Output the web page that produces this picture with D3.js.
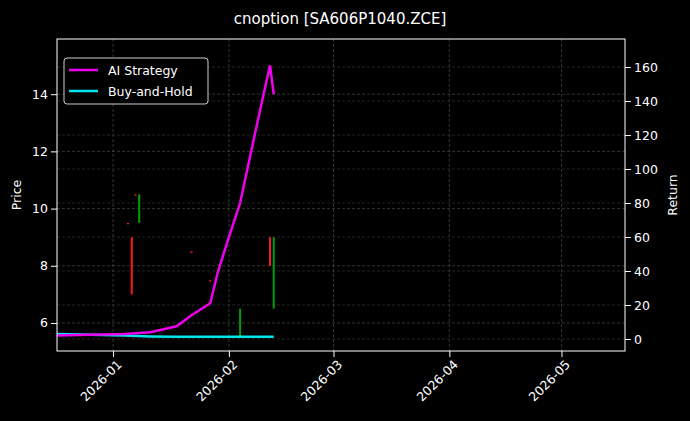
<!DOCTYPE html><html><head><meta charset="utf-8"><script src="https://d3js.org/d3.v7.min.js"></script>
<style>body{margin:0;background:#000}text{font-family:"DejaVu Sans",sans-serif}</style></head><body><svg id="c" width="690" height="421"></svg><script>
const candleDates=["2026-01-05","2026-01-06","2026-01-07","2026-01-08","2026-01-22","2026-01-27","2026-02-04","2026-02-12","2026-02-13"];
const candleOpen=[9.5,9.0,10.5,9.5,8.5,7.5,5.5,9.0,6.5];
const candleClose=[9.45,7.0,10.45,10.5,8.45,7.45,6.5,8.0,9.0];
const lineDates=["2025-12-17","2026-01-04","2026-01-11","2026-01-18","2026-01-22","2026-01-27","2026-01-29","2026-02-01","2026-02-04","2026-02-08","2026-02-12","2026-02-13"];
const aiReturn=[2,3,4,7.5,14,21,39,60,80,121,161,144];
const bhReturn=[3,2,1.5,1.3,1.3,1.3,1.3,1.3,1.3,1.3,1.3,1.3];
const xTicks=["2026-01-01","2026-02-01","2026-03-01","2026-04-01","2026-05-01"];
const pTicks=[6,8,10,12,14], rTicks=[0,20,40,60,80,100,120,140,160];
const P=d3.timeParse("%Y-%m-%d");
const L=57,R=625,T=39,B=351;
const svg=d3.select("#c");
svg.append("rect").attr("width",690).attr("height",421).attr("fill","#000");
const x=d3.scaleTime().domain([P("2025-12-17"),P("2026-05-18")]).range([L,R]);
const yp=d3.scaleLinear().domain([5.02,15.93]).range([B,T]);
const yr=d3.scaleLinear().domain([-7.06,176.5]).range([B,T]);
const g=svg.append("g");
// grid
xTicks.forEach(t=>g.append("line").attr("x1",x(P(t))).attr("x2",x(P(t))).attr("y1",T).attr("y2",B).attr("stroke","#555").attr("stroke-width",0.6).attr("stroke-dasharray","3,2"));
pTicks.forEach(t=>g.append("line").attr("x1",L).attr("x2",R).attr("y1",yp(t)).attr("y2",yp(t)).attr("stroke","#555").attr("stroke-width",0.6).attr("stroke-dasharray","3,2"));
rTicks.forEach(t=>g.append("line").attr("x1",L).attr("x2",R).attr("y1",yr(t)).attr("y2",yr(t)).attr("stroke","#444").attr("stroke-width",0.5).attr("stroke-dasharray","3,2"));
// candles
candleDates.forEach((d,i)=>{const o=candleOpen[i],c=candleClose[i];
g.append("line").attr("x1",x(P(d))).attr("x2",x(P(d))).attr("y1",yp(o)).attr("y2",yp(c)).attr("stroke",c>=o?"#00a000":"#ff1a1a").attr("stroke-width",2);});
const ln=d3.line().x((d,i)=>x(P(lineDates[i]))).y(d=>yr(d));
g.append("path").attr("d",ln(bhReturn)).attr("fill","none").attr("stroke","#00e5ee").attr("stroke-width",2.5);
g.append("path").attr("d",ln(aiReturn)).attr("fill","none").attr("stroke","#ee00ee").attr("stroke-width",2.5);
g.append("rect").attr("x",L).attr("y",T).attr("width",R-L).attr("height",B-T).attr("fill","none").attr("stroke","#fff").attr("stroke-width",1);
const ax=svg.append("g").attr("transform",`translate(0,${B})`).call(d3.axisBottom(x).tickValues(xTicks.map(P)).tickFormat(d3.timeFormat("%Y-%m")).tickSizeOuter(0));
ax.selectAll("text").attr("transform","rotate(-45)").attr("text-anchor","end").attr("dx","-0.3em").attr("dy","0.6em");
const al=svg.append("g").attr("transform",`translate(${L},0)`).call(d3.axisLeft(yp).tickValues(pTicks).tickSizeOuter(0));
const ar=svg.append("g").attr("transform",`translate(${R},0)`).call(d3.axisRight(yr).tickValues(rTicks).tickSizeOuter(0));
[ax,al,ar].forEach(a=>{a.select(".domain").remove();a.selectAll("line").attr("stroke","#fff");a.selectAll("text").attr("fill","#fff").attr("font-size",12.5);});
svg.append("text").attr("x",340).attr("y",24).attr("text-anchor","middle").attr("fill","#fff").attr("font-size",15).text("cnoption [SA606P1040.ZCE]");
svg.append("text").attr("transform","translate(21,195) rotate(-90)").attr("text-anchor","middle").attr("fill","#fff").attr("font-size",12.5).text("Price");
svg.append("text").attr("transform","translate(677,195) rotate(-90)").attr("text-anchor","middle").attr("fill","#fff").attr("font-size",12.5).text("Return");
const lg=svg.append("g");
lg.append("rect").attr("x",64).attr("y",58).attr("width",144).attr("height",46).attr("rx",3).attr("fill","#000").attr("stroke","#ccc");
[["AI Strategy","#ee00ee"],["Buy-and-Hold","#00e5ee"]].forEach((d,i)=>{const yy=70+i*21;
lg.append("line").attr("x1",69).attr("x2",98).attr("y1",yy).attr("y2",yy).attr("stroke",d[1]).attr("stroke-width",2.5);
lg.append("text").attr("x",108).attr("y",yy+4.5).attr("fill","#fff").attr("font-size",12.5).text(d[0]);});
</script></body></html>
